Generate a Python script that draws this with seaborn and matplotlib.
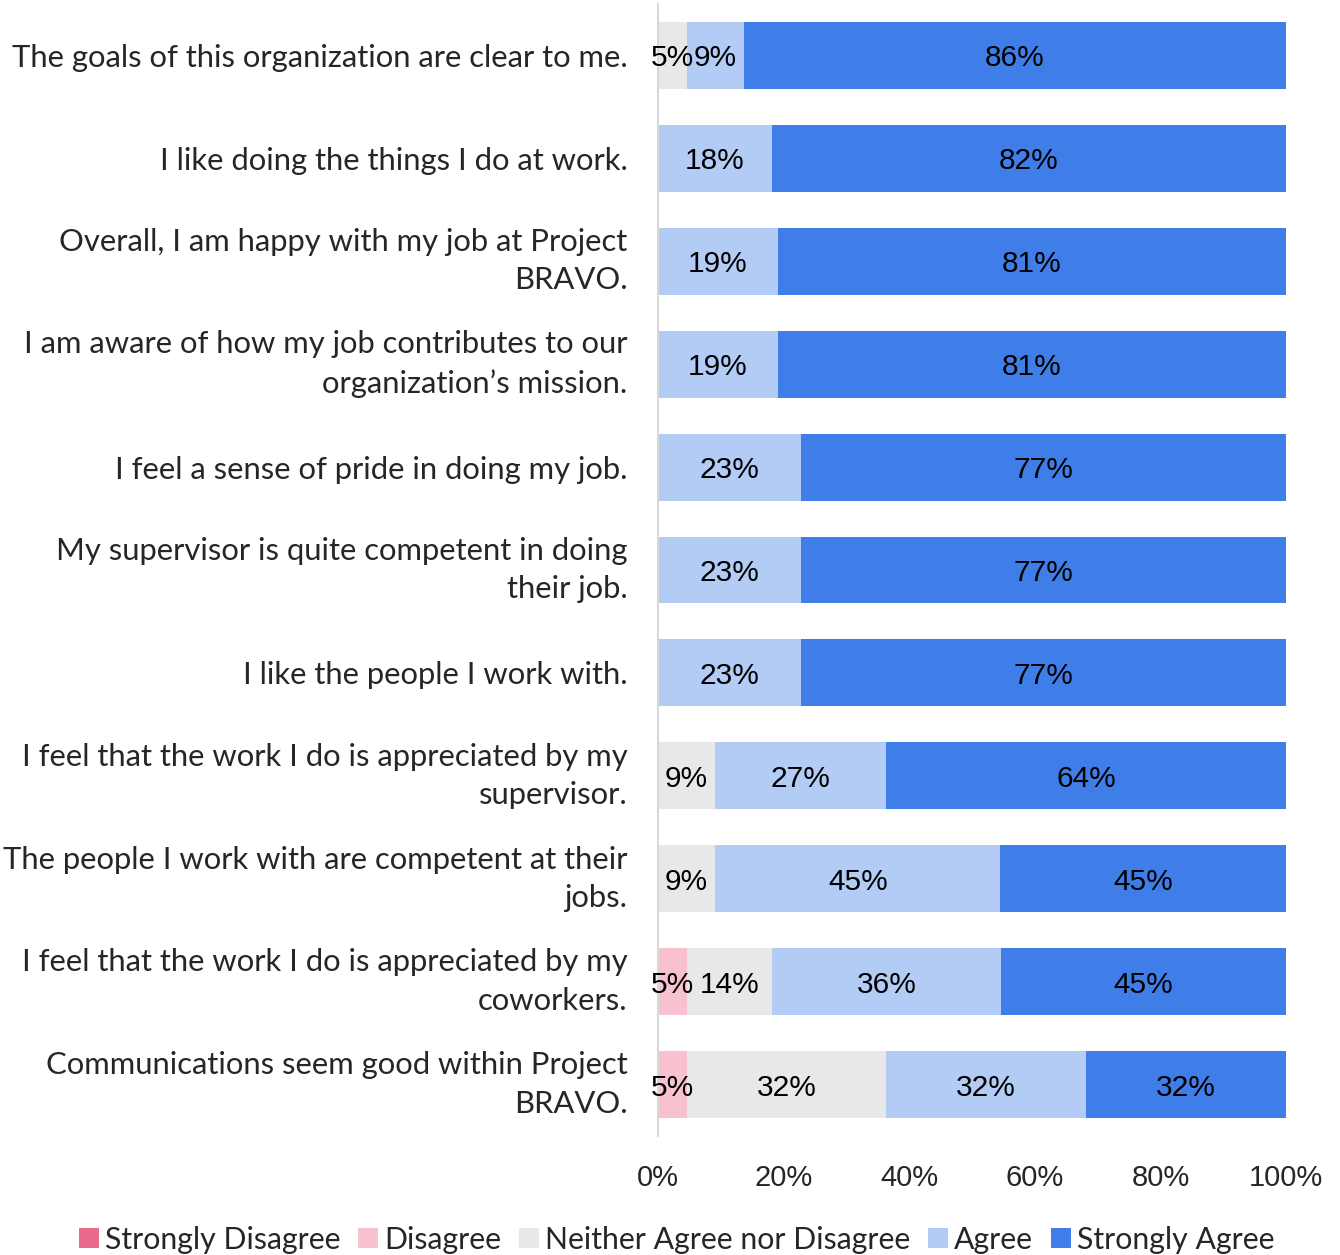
import numpy as np
import pandas as pd
import matplotlib
matplotlib.use("Agg")
import matplotlib.pyplot as plt
from matplotlib.patches import Patch
import seaborn as sns

categories = [
    "The goals of this organization are clear to me.",
    "I like doing the things I do at work.",
    "Overall, I am happy with my job at Project\nBRAVO.",
    "I am aware of how my job contributes to our\norganization\u2019s mission.",
    "I feel a sense of pride in doing my job.",
    "My supervisor is quite competent in doing\ntheir job.",
    "I like the people I work with.",
    "I feel that the work I do is appreciated by my\nsupervisor.",
    "The people I work with are competent at their\njobs.",
    "I feel that the work I do is appreciated by my\ncoworkers.",
    "Communications seem good within Project\nBRAVO.",
]
series_names = ["Strongly Disagree", "Disagree", "Neither Agree nor Disagree", "Agree", "Strongly Agree"]
strongly_disagree = [0, 0, 0, 0, 0, 0, 0, 0, 0, 0, 0]
disagree = [0, 0, 0, 0, 0, 0, 0, 0, 0, 4.55, 4.55]
neither = [4.55, 0, 0, 0, 0, 0, 0, 9.09, 9.09, 13.64, 31.82]
agree = [9.09, 18.18, 19.05, 19.05, 22.73, 22.73, 22.73, 27.27, 45.45, 36.36, 31.82]
strongly_agree = [86.36, 81.82, 80.95, 80.95, 77.27, 77.27, 77.27, 63.64, 45.45, 45.45, 31.82]
colors = ["#EA6A8C", "#F7C1D0", "#E8E8E8", "#B3CCF6", "#3F7EE8"]

sns.set_theme(style="white")
plt.rcParams["font.family"] = ["Lato", "DejaVu Sans"]

values = np.array([strongly_disagree, disagree, neither, agree, strongly_agree])
cum = np.cumsum(values, axis=0)

fig = plt.figure(figsize=(13.4, 12.55), dpi=100)
ax = fig.add_axes([0.491, 0.0948, 0.4687, 0.902])

# Draw cumulative bars from largest to smallest so that they appear stacked
for i in range(len(series_names) - 1, -1, -1):
    df = pd.DataFrame({"cat": categories, "val": cum[i]})
    sns.barplot(data=df, x="val", y="cat", orient="h", color=colors[i],
                width=0.65, saturation=1, ax=ax, linewidth=0, errorbar=None)

# data labels
for i in range(len(series_names)):
    for j in range(len(categories)):
        v = values[i, j]
        if v > 0:
            left = cum[i, j] - v
            ax.text(left + v / 2, j, f"{v:.0f}%", ha="center", va="center_baseline",
                    fontsize=21.5, color="black", family=["Liberation Sans", "DejaVu Sans"])

ax.set_xlim(0, 100)
ax.set_ylim(len(categories) - 0.5, -0.5)
ax.set_xticks([0, 20, 40, 60, 80, 100])
ax.set_xticklabels([f"{t}%" for t in [0, 20, 40, 60, 80, 100]],
                   family=["Liberation Sans", "DejaVu Sans"], fontsize=21)
ax.set_xlabel("")
ax.set_ylabel("")
ax.tick_params(axis="x", length=0, pad=20)
ax.tick_params(axis="y", length=0, pad=22)
for lab in ax.get_yticklabels():
    lab.set_fontsize(22.3)
    lab.set_linespacing(1.45)
    lab.set_horizontalalignment("right")
    if "\n" in lab.get_text():
        lab.set_verticalalignment("center")
for s in ["top", "right", "bottom"]:
    ax.spines[s].set_visible(False)
ax.spines["left"].set_color("#D9D9D9")
ax.spines["left"].set_linewidth(1.5)
ax.grid(False)

handles = [Patch(facecolor=c, edgecolor="none", label=n) for n, c in zip(series_names, colors)]
fig.legend(handles=handles, loc="center", bbox_to_anchor=(0.505, 0.012), ncol=5,
           frameon=False, fontsize=21.8, handlelength=0.65, handleheight=0.65,
           handletextpad=0.2, columnspacing=0.6, borderaxespad=0)

fig.savefig("out.png", dpi=100)
